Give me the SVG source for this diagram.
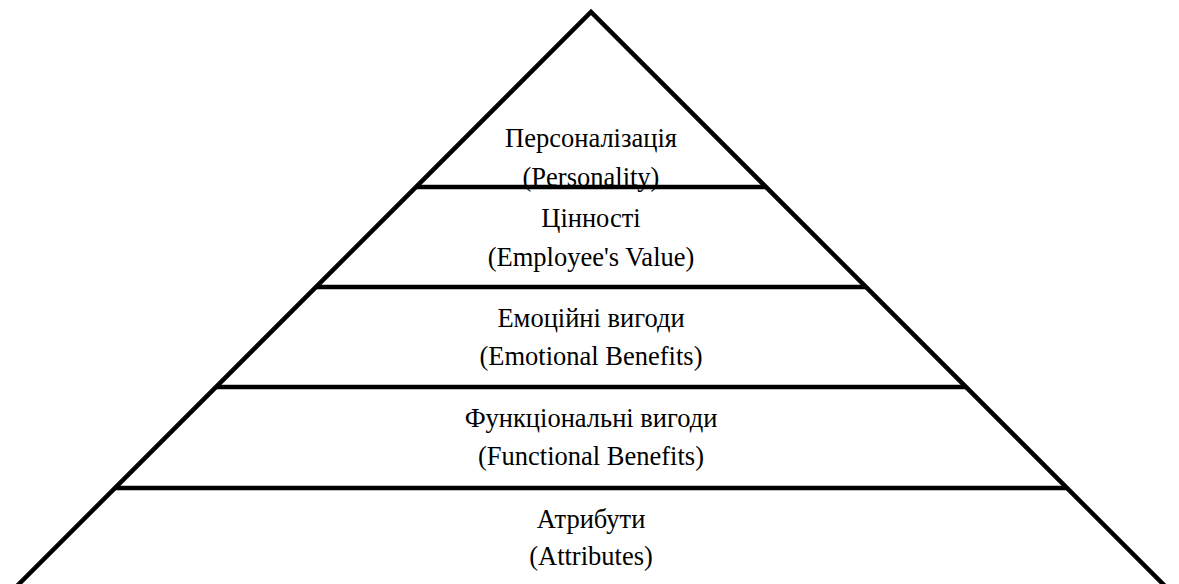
<svg xmlns="http://www.w3.org/2000/svg" width="1179" height="584" viewBox="0 0 1179 584">
<style>
.ln{stroke:#000;stroke-width:4.5;fill:none;stroke-linejoin:miter}
.t{font-family:"Liberation Serif","Times New Roman",serif;font-size:26.5px;fill:#000;text-anchor:middle}
</style>
<rect width="1179" height="584" fill="#fff"/>
<g id="connectors">
<path class="ln" d="M17 586 L591 12 L1165 586"/>
<line class="ln" x1="416" y1="187" x2="766" y2="187"/>
<line class="ln" x1="316" y1="287" x2="866" y2="287"/>
<line class="ln" x1="216" y1="387" x2="966" y2="387"/>
<line class="ln" x1="115" y1="488" x2="1067" y2="488"/>
</g>
<g id="tier-personality">
<text class="t" x="591" y="147">Персоналізація</text>
<text class="t" x="591" y="186">(Personality)</text>
</g>
<g id="tier-value">
<text class="t" x="591" y="227">Цінності</text>
<text class="t" x="591" y="266">(Employee's Value)</text>
</g>
<g id="tier-emotional">
<text class="t" x="591" y="327">Емоційні вигоди</text>
<text class="t" x="591" y="365">(Emotional Benefits)</text>
</g>
<g id="tier-functional">
<text class="t" x="591" y="427">Функціональні вигоди</text>
<text class="t" x="591" y="465">(Functional Benefits)</text>
</g>
<g id="tier-attributes">
<text class="t" x="591" y="528">Атрибути</text>
<text class="t" x="591" y="565">(Attributes)</text>
</g>
</svg>
